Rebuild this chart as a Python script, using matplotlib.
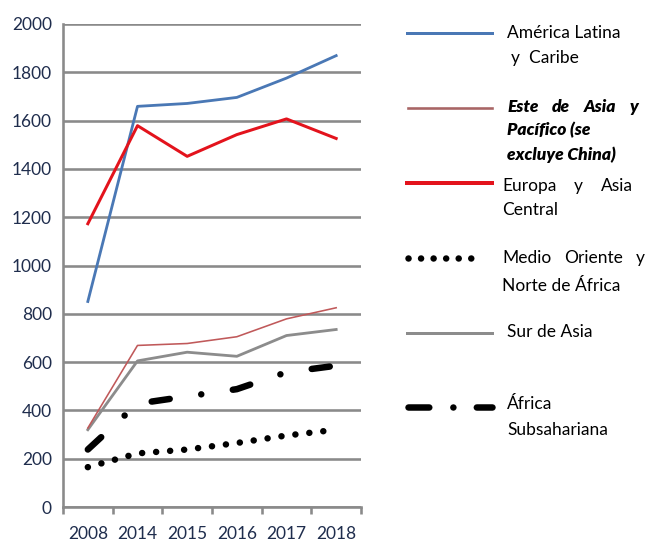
import matplotlib
matplotlib.use("Agg")
import matplotlib.pyplot as plt

plt.rcParams['font.family'] = ['Lato', 'DejaVu Sans']

# datos
years = ['2008', '2014', '2015', '2016', '2017', '2018']
america_latina = [851, 1659, 1671, 1696, 1776, 1869]
este_asia = [327, 669, 677, 705, 779, 825]
europa_asia = [1173, 1579, 1452, 1542, 1607, 1526]
medio_oriente = [165, 222, 238, 265, 296, 320]
sur_asia = [320, 605, 641, 624, 710, 735]
africa_sub = [238, 428, 458, 488, 558, 585]

GRID = '#8a8a8a'
NAVY = '#1f2d4d'
BLUE = '#4a78b5'
RED = '#e3131c'
BROWN = '#c0595a'
GRAY = '#8c8c8c'

PX = 72 / 100  # points per pixel

fig = plt.figure(figsize=(6.47, 5.44), dpi=100)
ax = fig.add_axes([63 / 647, 1 - 507 / 544, (361 - 63) / 647, (507 - 24) / 544])

x = list(range(len(years)))
ax.plot(x, america_latina, color=BLUE, lw=2.8 * PX, zorder=5)
ax.plot(x, este_asia, color=BROWN, lw=1.6 * PX, zorder=5)
ax.plot(x, europa_asia, color=RED, lw=3 * PX, zorder=5)
ax.plot(x, sur_asia, color=GRAY, lw=2.8 * PX, zorder=4)
ax.plot(x, medio_oriente, color='black', lw=6.5 * PX, ls=(0, (0.01, 2.15)),
        dash_capstyle='round', zorder=5)
ax.plot(x, africa_sub, color='black', lw=6.5 * PX, ls=(0, (2.8, 4.9, 0.01, 4.9)),
        dash_capstyle='round', solid_capstyle='round', zorder=5)

ax.set_xlim(-0.5, len(years) - 0.5)
ax.set_ylim(0, 2000)
ax.set_yticks(range(0, 2001, 200))
ax.set_xticks(x)
ax.set_xticklabels(years)
ax.set_xticks([i - 0.5 for i in range(len(years) + 1)], minor=True)

ax.grid(axis='y', color=GRID, lw=2.6 * PX, zorder=1)
ax.set_axisbelow(True)
for s in ['top', 'right']:
    ax.spines[s].set_visible(False)
for s in ['left', 'bottom']:
    ax.spines[s].set_color(GRID)
    ax.spines[s].set_linewidth(2.6 * PX)
ax.spines['left'].set_bounds(0, 2000)

ax.tick_params(axis='y', length=0, pad=8, labelsize=12.5, labelcolor=NAVY)
ax.tick_params(axis='x', which='major', length=0, pad=14, labelsize=12.5, labelcolor=NAVY)
ax.tick_params(axis='x', which='minor', length=7 * PX, width=2.6 * PX, color=GRID)

# leyenda dibujada a mano (coordenadas en pixeles de la figura)
lax = fig.add_axes([0, 0, 1, 1])
lax.set_xlim(0, 647)
lax.set_ylim(544, 0)
lax.axis('off')

lax.plot([407, 492], [33, 33], color=BLUE, lw=3 * PX)
lax.plot([408, 492], [108, 108], color='#a86565', lw=2.6 * PX)
lax.plot([407, 492], [183, 183], color=RED, lw=4 * PX)
lax.plot([408, 483], [258, 258], color='black', lw=6.5 * PX, ls=(0, (0.01, 1.92)),
         dash_capstyle='round')
lax.plot([407, 492], [333, 333], color=GRAY, lw=3 * PX)
lax.plot([408, 492], [407, 407], color='black', lw=6.5 * PX, ls=(0, (3.2, 3.7, 0.01, 3.6)),
         dash_capstyle='round')

fs = 12.5
txt = dict(fontsize=fs, color='black', va='center', ha='left')
bi = dict(fontweight='heavy', style='italic')
renderer = fig.canvas.get_renderer()


def justified(x0, x1, y, line, **kw):
    # reparte las palabras entre x0 y x1 como texto justificado
    words = [lax.text(x0, y, w, **kw) for w in line.split()]
    widths = [w.get_window_extent(renderer).width for w in words]
    gap = (x1 - x0 - sum(widths)) / (len(words) - 1)
    pos = x0
    for t, w in zip(words, widths):
        t.set_x(pos)
        pos += w + gap


lax.text(507, 33, 'América Latina', **txt)
lax.text(511, 58, 'y  Caribe', **txt)
justified(507, 638, 107, 'Este de Asia y', **bi, **txt)
lax.text(507, 130, 'Pacífico (se', **bi, **txt)
lax.text(507, 155, 'excluye China)', **bi, **txt)
justified(502, 633, 186, 'Europa y Asia', **txt)
lax.text(502, 210, 'Central', **txt)
justified(502, 645, 258, 'Medio Oriente y', **txt)
lax.text(502, 286, 'Norte de África', **txt)
lax.text(507, 332, 'Sur de Asia', **txt)
lax.text(507, 404, 'África', **txt)
lax.text(507, 430, 'Subsahariana', **txt)

fig.savefig('out.png', dpi=100)
